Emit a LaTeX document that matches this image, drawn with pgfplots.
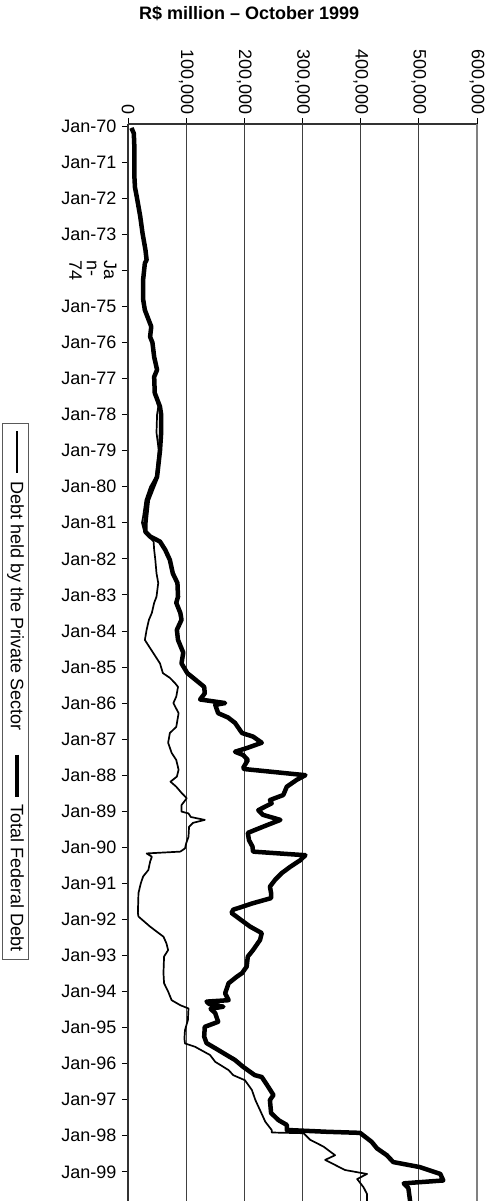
\documentclass[border=0pt]{standalone}
\usepackage{pgfplots}
\pgfplotsset{compat=1.18}
\usepackage{pgfplotstable}
\usepackage{graphicx}
\usepackage{fontspec}
\setmainfont{Liberation Sans}

\pgfplotstableread{
year val
1970.05 6
1970.2 10
1970.6 11
1971.0 11
1971.4 11
1971.7 12
1971.95 15
1972.5 21
1972.97 25
1973.43 30
1973.71 32
1973.8 29
1974.26 26
1974.8 26
1975.1 29
1975.56 40
1975.84 38
1976.0 42
1976.4 45
1976.76 50
1976.95 45
1977.4 46
1977.78 55
1978.0 57
1978.5 57
1979.0 55
1979.72 50
1980.0 43
1980.37 34
1980.83 31
1981.0 30
1981.25 30
1981.38 38
1981.52 55
1981.75 64
1982.03 72
1982.4 77
1982.67 85
1983.05 86
1983.22 83
1983.5 90
1983.69 92
1983.97 84
1984.25 86
1984.6 95
1984.9 92
1985.17 102
1985.3 112
1985.55 131
1985.73 132
1985.9 124
1986.0 167
1986.05 150
1986.28 155
1986.4 172
1986.55 184
1986.83 196
1986.93 215
1987.1 230
1987.25 204
1987.35 184
1987.44 198
1987.58 206
1987.8 198
1987.83 200
1988.0 305
1988.13 290
1988.32 273
1988.55 267
1988.69 244
1988.78 247
1988.97 224
1989.1 232
1989.24 262
1989.43 232
1989.6 206
1989.8 208
1989.98 214
1990.12 215
1990.22 305
1990.36 296
1990.54 279
1990.72 264
1990.9 253
1991.09 244
1991.27 246
1991.41 246
1991.55 215
1991.73 181
1991.82 178
1992.0 193
1992.2 210
1992.38 230
1992.57 227
1992.85 215
1993.03 206
1993.31 204
1993.49 196
1993.59 187
1993.77 173
1994.05 167
1994.24 173
1994.28 135
1994.35 140
1994.42 164
1994.48 142
1994.6 150
1994.84 155
1994.98 132
1995.25 131
1995.43 135
1995.62 155
1995.9 184
1996.09 198
1996.32 218
1996.37 230
1996.64 241
1996.87 250
1997.01 244
1997.37 246
1997.57 259
1997.7 273
1997.84 273
1997.89 342
1997.92 399
1998.17 419
1998.35 428
1998.54 445
1998.73 456
1998.87 502
1999.06 537
1999.24 542
1999.32 474
1999.45 482
1999.81 485
}\totaldebt

\pgfplotstableread{
year val
1970.05 6
1970.2 10
1970.6 11
1971.0 11
1971.4 11
1971.7 12
1971.95 15
1972.5 21
1972.97 25
1973.43 30
1973.71 32
1973.8 29
1974.26 26
1974.8 26
1975.1 29
1975.56 40
1975.84 38
1976.0 42
1976.4 45
1976.76 50
1976.95 45
1977.4 46
1977.78 52
1978.0 50
1978.5 49
1979.0 53
1979.72 48
1980.0 38
1980.37 30
1980.83 26
1981.0 24
1981.25 28
1981.38 35
1981.52 44
1981.75 45
1982.03 47
1982.4 49
1982.67 52
1983.05 49
1983.22 45
1983.5 41
1983.69 36
1983.97 32
1984.25 29
1984.6 43
1984.9 55
1985.17 60
1985.3 72
1985.45 81
1985.55 86
1985.82 83
1986.0 78
1986.28 87
1986.66 83
1986.83 72
1987.1 69
1987.38 75
1987.58 83
1987.85 87
1988.04 84
1988.18 73
1988.32 83
1988.49 92
1988.64 101
1988.83 92
1989.01 92
1989.06 104
1989.16 108
1989.24 132
1989.32 112
1989.43 105
1989.71 104
1989.89 100
1990.03 98
1990.12 90
1990.17 32
1990.26 41
1990.4 38
1990.63 35
1990.81 26
1991.0 22
1991.27 18
1991.82 17
1991.92 18
1992.2 38
1992.48 61
1992.66 66
1992.85 69
1993.03 62
1993.49 61
1993.77 62
1994.0 69
1994.24 75
1994.38 90
1994.47 104
1994.79 103
1995.07 98
1995.3 97
1995.44 98
1995.53 115
1995.76 141
1995.95 150
1996.18 173
1996.32 181
1996.46 201
1996.73 213
1997.01 219
1997.29 227
1997.61 236
1997.84 247
1997.91 247
1997.93 302
1998.11 313
1998.3 336
1998.54 356
1998.67 339
1998.95 373
1999.06 411
1999.2 394
1999.43 405
1999.62 411
1999.81 411
}\privatedebt

\begin{document}
\begin{tikzpicture}
\begin{axis}[
  scale only axis, width=349pt, height=1077pt,
  xmin=0, xmax=600, ymin=1969.94, ymax=1999.81, y dir=reverse,
  axis x line*=top, axis y line*=left,
  axis line style={black!80, line width=1.2pt},
  xtick={0,100,200,300,400,500,600},
  xticklabels={0,{100,000},{200,000},{300,000},{400,000},{500,000},{600,000}},
  x tick label style={rotate=-90, anchor=east},
  ytick={1970,1971,...,1999},
  yticklabels={Jan-70,Jan-71,Jan-72,Jan-73,{\rotatebox{-90}{\renewcommand\arraystretch{0.82}\begin{tabular}{@{}l@{}}Ja\\n-\\74\end{tabular}}},Jan-75,Jan-76,Jan-77,Jan-78,Jan-79,Jan-80,Jan-81,Jan-82,Jan-83,Jan-84,Jan-85,Jan-86,Jan-87,Jan-88,Jan-89,Jan-90,Jan-91,Jan-92,Jan-93,Jan-94,Jan-95,Jan-96,Jan-97,Jan-98,Jan-99},
  y tick label style={xshift=-2pt},
  tick label style={font=\fontsize{18}{21}\selectfont},
  tick align=outside, major tick length=6pt,
  tick style={black, line width=0.8pt},
  xmajorgrids, major grid style={black!75, line width=0.8pt},
  title={R\$ million – October 1999},
  title style={font=\bfseries\fontsize{18}{21}\selectfont, at={(0.347,1.091)}, anchor=base},
]
\addplot[black, line width=4.5pt, line join=round] table[x=val, y=year] {\totaldebt};
\addplot[black, line width=1.7pt, line join=round] table[x=val, y=year] {\privatedebt};
\end{axis}
\draw[gray, line width=2pt] (current axis.north east) -- (current axis.south east);
\node[draw=gray!70!black, line width=1pt, rotate=-90, anchor=west, inner xsep=8pt, inner ysep=5pt,
      font=\fontsize{18}{21}\selectfont]
  at ([xshift=-112.5pt,yshift=-299pt]current axis.north west)
  {\rule[0.3em]{42pt}{1.7pt}\hspace{8pt}Debt held by the Private Sector\hspace{24pt}\rule[0.22em]{42pt}{4.5pt}\hspace{8pt}Total Federal Debt};
\pgfresetboundingbox
\path[use as bounding box] ([xshift=-128pt,yshift=124pt]current axis.north west) rectangle ([xshift=16pt]current axis.south east);
\end{tikzpicture}
\end{document}
